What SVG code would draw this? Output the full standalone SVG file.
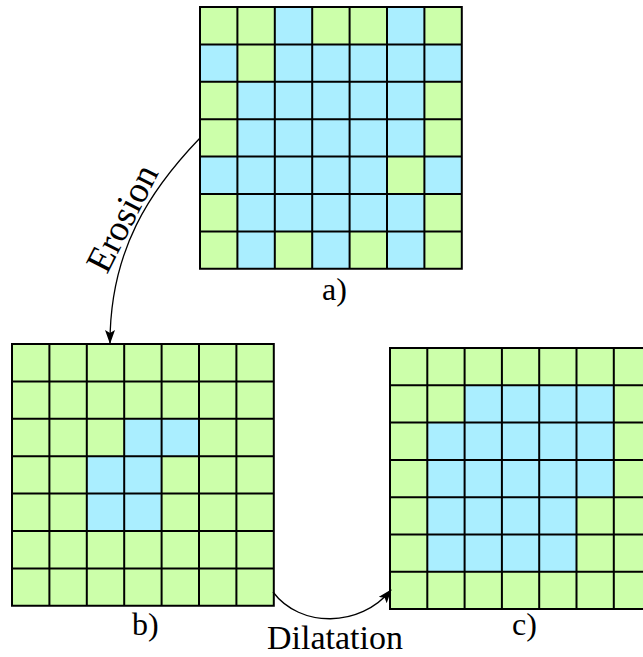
<svg xmlns="http://www.w3.org/2000/svg" width="643" height="657" viewBox="0 0 643 657">
<style>
.bg{fill:#ccffaa}
.bl{fill:#aaeeff}
.gl{fill:none;stroke:#000;stroke-width:2;vector-effect:non-scaling-stroke;stroke-linecap:square}
.lbl{font-family:'Liberation Serif','Tinos','Times New Roman','DejaVu Serif',serif;fill:#000}
.con{fill:none;stroke:#000;stroke-width:1.3}
</style>
<defs>
<marker id="ah" viewBox="0 0 14 10" refX="13" refY="5" markerWidth="14" markerHeight="10" markerUnits="userSpaceOnUse" orient="auto">
<path d="M0,0 L14,5 L0,10 L3,5 Z" fill="#000"/>
</marker>
<path id="grid" class="gl" d="M0,0H7M0,1H7M0,2H7M0,3H7M0,4H7M0,5H7M0,6H7M0,7H7M0,0V7M1,0V7M2,0V7M3,0V7M4,0V7M5,0V7M6,0V7M7,0V7"/>
</defs>
<rect width="643" height="657" fill="#fff"/>
<g id="grid-a">
<g transform="translate(200,7) scale(37.4)">
<rect class="bg" width="7" height="7"/>
<rect class="bl" x="2" y="0" width="1" height="1"/>
<rect class="bl" x="5" y="0" width="1" height="1"/>
<rect class="bl" x="0" y="1" width="1" height="1"/>
<rect class="bl" x="2" y="1" width="5" height="1"/>
<rect class="bl" x="1" y="2" width="5" height="2"/>
<rect class="bl" x="0" y="4" width="5" height="1"/>
<rect class="bl" x="6" y="4" width="1" height="1"/>
<rect class="bl" x="1" y="5" width="5" height="1"/>
<rect class="bl" x="1" y="6" width="1" height="1"/>
<rect class="bl" x="3" y="6" width="1" height="1"/>
<rect class="bl" x="5" y="6" width="1" height="1"/>
<use href="#grid"/>
</g>
<text class="lbl" font-family="Liberation Serif, serif" x="322" y="300" font-size="32">a)</text>
</g>
<g id="grid-b">
<g transform="translate(12,344) scale(37.4)">
<rect class="bg" width="7" height="7"/>
<rect class="bl" x="3" y="2" width="2" height="1"/>
<rect class="bl" x="2" y="3" width="2" height="2"/>
<use href="#grid"/>
</g>
<text class="lbl" font-family="Liberation Serif, serif" x="132" y="635" font-size="32">b)</text>
</g>
<g id="grid-c">
<g transform="translate(390,348) scale(37.3)">
<rect class="bg" width="7" height="7"/>
<rect class="bl" x="2" y="1" width="4" height="1"/>
<rect class="bl" x="1" y="2" width="5" height="2"/>
<rect class="bl" x="1" y="4" width="4" height="2"/>
<use href="#grid"/>
</g>
<text class="lbl" font-family="Liberation Serif, serif" x="512" y="635" font-size="32">c)</text>
</g>
<g id="connectors">
<path class="con" d="M200,138 C150,190 110,250 110,343" marker-end="url(#ah)"/>
<text class="lbl" font-family="Liberation Serif, serif" font-size="37" transform="translate(107,275) rotate(-63)">Erosion</text>
<path class="con" d="M273,592 C300,628 360,628 391,590" marker-end="url(#ah)"/>
<text class="lbl" font-family="Liberation Serif, serif" x="267" y="649" font-size="34">Dilatation</text>
</g>
</svg>
